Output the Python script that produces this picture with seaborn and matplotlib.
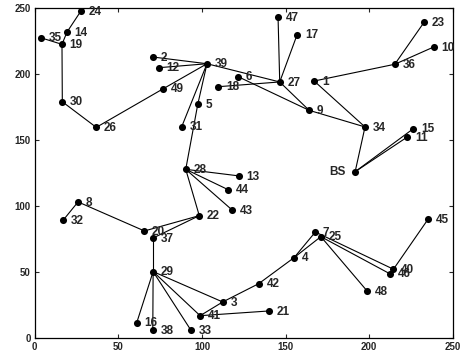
import seaborn as sns
import matplotlib
matplotlib.use("Agg")
import matplotlib.pyplot as plt
import pandas as pd

# node positions
node_names = ["BS", "1", "2", "3", "4", "5", "6", "7", "8", "9", "10",
              "11", "12", "13", "14", "15", "16", "17", "18", "19", "20",
              "21", "22", "23", "24", "25", "26", "27", "28", "29", "30",
              "31", "32", "33", "34", "35", "36", "37", "38", "39", "40",
              "41", "42", "43", "44", "45", "46", "47", "48", "49"]
node_x = [191.6, 167.1, 70.6, 112.4, 155.1, 97.5, 121.6, 167.8, 25.9, 164.1, 238.6,
          222.8, 74.2, 122.2, 19.3, 226.4, 61.0, 156.9, 109.8, 16.3, 65.6,
          140.3, 98.4, 232.8, 27.5, 171.1, 36.8, 146.5, 90.3, 70.8, 16.5,
          87.9, 17.1, 93.3, 197.5, 3.6, 215.3, 70.8, 70.6, 103.0, 214.5,
          98.9, 134.0, 118.2, 115.6, 235.2, 212.3, 145.5, 198.9, 76.9]
node_y = [126.2, 194.9, 213.1, 27.5, 61.1, 177.3, 198.2, 80.5, 103.3, 172.7, 220.7,
          152.5, 205.0, 123.0, 232.0, 158.8, 11.8, 230.0, 190.6, 222.7, 81.3,
          20.7, 92.9, 239.4, 247.7, 77.0, 159.8, 194.2, 128.0, 50.5, 179.2,
          160.3, 89.6, 6.3, 160.1, 227.7, 207.6, 76.0, 6.3, 208.0, 52.3,
          17.1, 41.4, 97.0, 112.6, 90.2, 48.9, 243.4, 35.6, 189.1]

# links between nodes
edges = [("35", "19"), ("24", "14"), ("14", "19"), ("19", "30"), ("30", "26"),
         ("26", "49"), ("49", "39"), ("2", "39"), ("12", "39"), ("39", "5"),
         ("5", "28"), ("39", "31"), ("39", "27"), ("6", "9"), ("18", "27"),
         ("47", "27"), ("17", "27"), ("27", "9"), ("9", "34"), ("1", "34"),
         ("1", "36"), ("36", "23"), ("36", "10"), ("34", "BS"), ("BS", "15"),
         ("BS", "11"), ("28", "13"), ("28", "44"), ("28", "43"), ("28", "22"),
         ("22", "20"), ("22", "37"), ("20", "8"), ("8", "32"), ("37", "29"),
         ("29", "16"), ("29", "38"), ("29", "33"), ("29", "41"), ("29", "3"),
         ("41", "3"), ("41", "21"), ("3", "42"), ("42", "4"), ("4", "7"),
         ("4", "25"), ("7", "40"), ("25", "46"), ("25", "48"), ("40", "45")]

nodes = pd.DataFrame({"name": node_names, "x": node_x, "y": node_y})
pos = nodes.set_index("name")

rows = []
for i, (a, b) in enumerate(edges):
    for n in (a, b):
        rows.append({"edge": i, "x": pos.loc[n, "x"], "y": pos.loc[n, "y"]})
edge_df = pd.DataFrame(rows)

sns.set_theme(style="ticks")
plt.rcParams["font.family"] = ["Liberation Sans", "DejaVu Sans"]
plt.rcParams["font.weight"] = "bold"

fig = plt.figure(figsize=(4.63, 3.61), dpi=100)
ax = fig.add_axes([0.075, 0.063, 0.903, 0.914])

sns.lineplot(data=edge_df, x="x", y="y", units="edge", estimator=None, sort=False,
             color="black", linewidth=0.8, ax=ax, legend=False)
sns.scatterplot(data=nodes, x="x", y="y", color="black", s=26, linewidth=0,
                ax=ax, zorder=3, legend=False)

for _, r in nodes.iterrows():
    if r["name"] == "BS":
        ax.annotate(r["name"], (r["x"], r["y"]), xytext=(-7, 0), textcoords="offset points",
                    ha="right", va="center", fontsize=8.5, fontweight="bold")
    else:
        ax.annotate(r["name"], (r["x"], r["y"]), xytext=(5.5, -0.5), textcoords="offset points",
                    ha="left", va="center", fontsize=8.5, fontweight="bold")

ax.set_xlim(0, 250)
ax.set_ylim(0, 250)
ax.set_xticks(range(0, 251, 50))
ax.set_yticks(range(0, 251, 50))
ax.set_xlabel("")
ax.set_ylabel("")
ax.tick_params(direction="in", top=True, right=True, labelsize=7, length=3, width=0.8, pad=3)
for lab in ax.get_xticklabels() + ax.get_yticklabels():
    lab.set_fontweight("bold")
for sp in ax.spines.values():
    sp.set_linewidth(0.9)
    sp.set_color("black")

fig.savefig("out.png", dpi=100)
